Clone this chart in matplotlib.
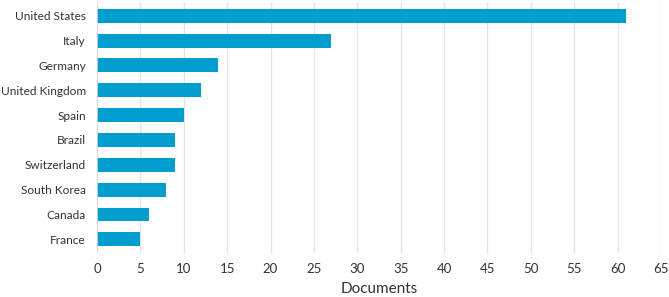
import matplotlib
matplotlib.use("Agg")
import matplotlib.pyplot as plt

countries = ["United States", "Italy", "Germany", "United Kingdom", "Spain",
             "Brazil", "Switzerland", "South Korea", "Canada", "France"]
documents = [61, 27, 14, 12, 10, 9, 9, 8, 6, 5]

plt.rcParams['font.family'] = ['Lato', 'DejaVu Sans']
text_color = "#333333"

fig = plt.figure(figsize=(6.69, 2.97), dpi=100)
ax = fig.add_axes([0.145, 0.148, 0.843, 0.845])

y_pos = list(range(len(countries)))
ax.barh(y_pos, documents, height=0.56, color="#009ECE", zorder=3)
ax.set_yticks(y_pos)
ax.set_yticklabels(countries)
ax.set_ylim(9.55, -0.55)
ax.set_xlim(0, 65)
ax.set_xticks(range(0, 66, 5))

ax.grid(axis="x", color="#e4e4e4", linewidth=1, zorder=0)
ax.axvline(0, color="#d6d8e6", linewidth=1.2, zorder=4)
for s in ax.spines.values():
    s.set_visible(False)
ax.tick_params(length=0, labelsize=9.5, colors=text_color, pad=7)
ax.tick_params(axis="y", labelsize=8.6, pad=8)
ax.set_xlabel("Documents", fontsize=11, color=text_color, labelpad=5)

fig.savefig("out.png", dpi=100)
